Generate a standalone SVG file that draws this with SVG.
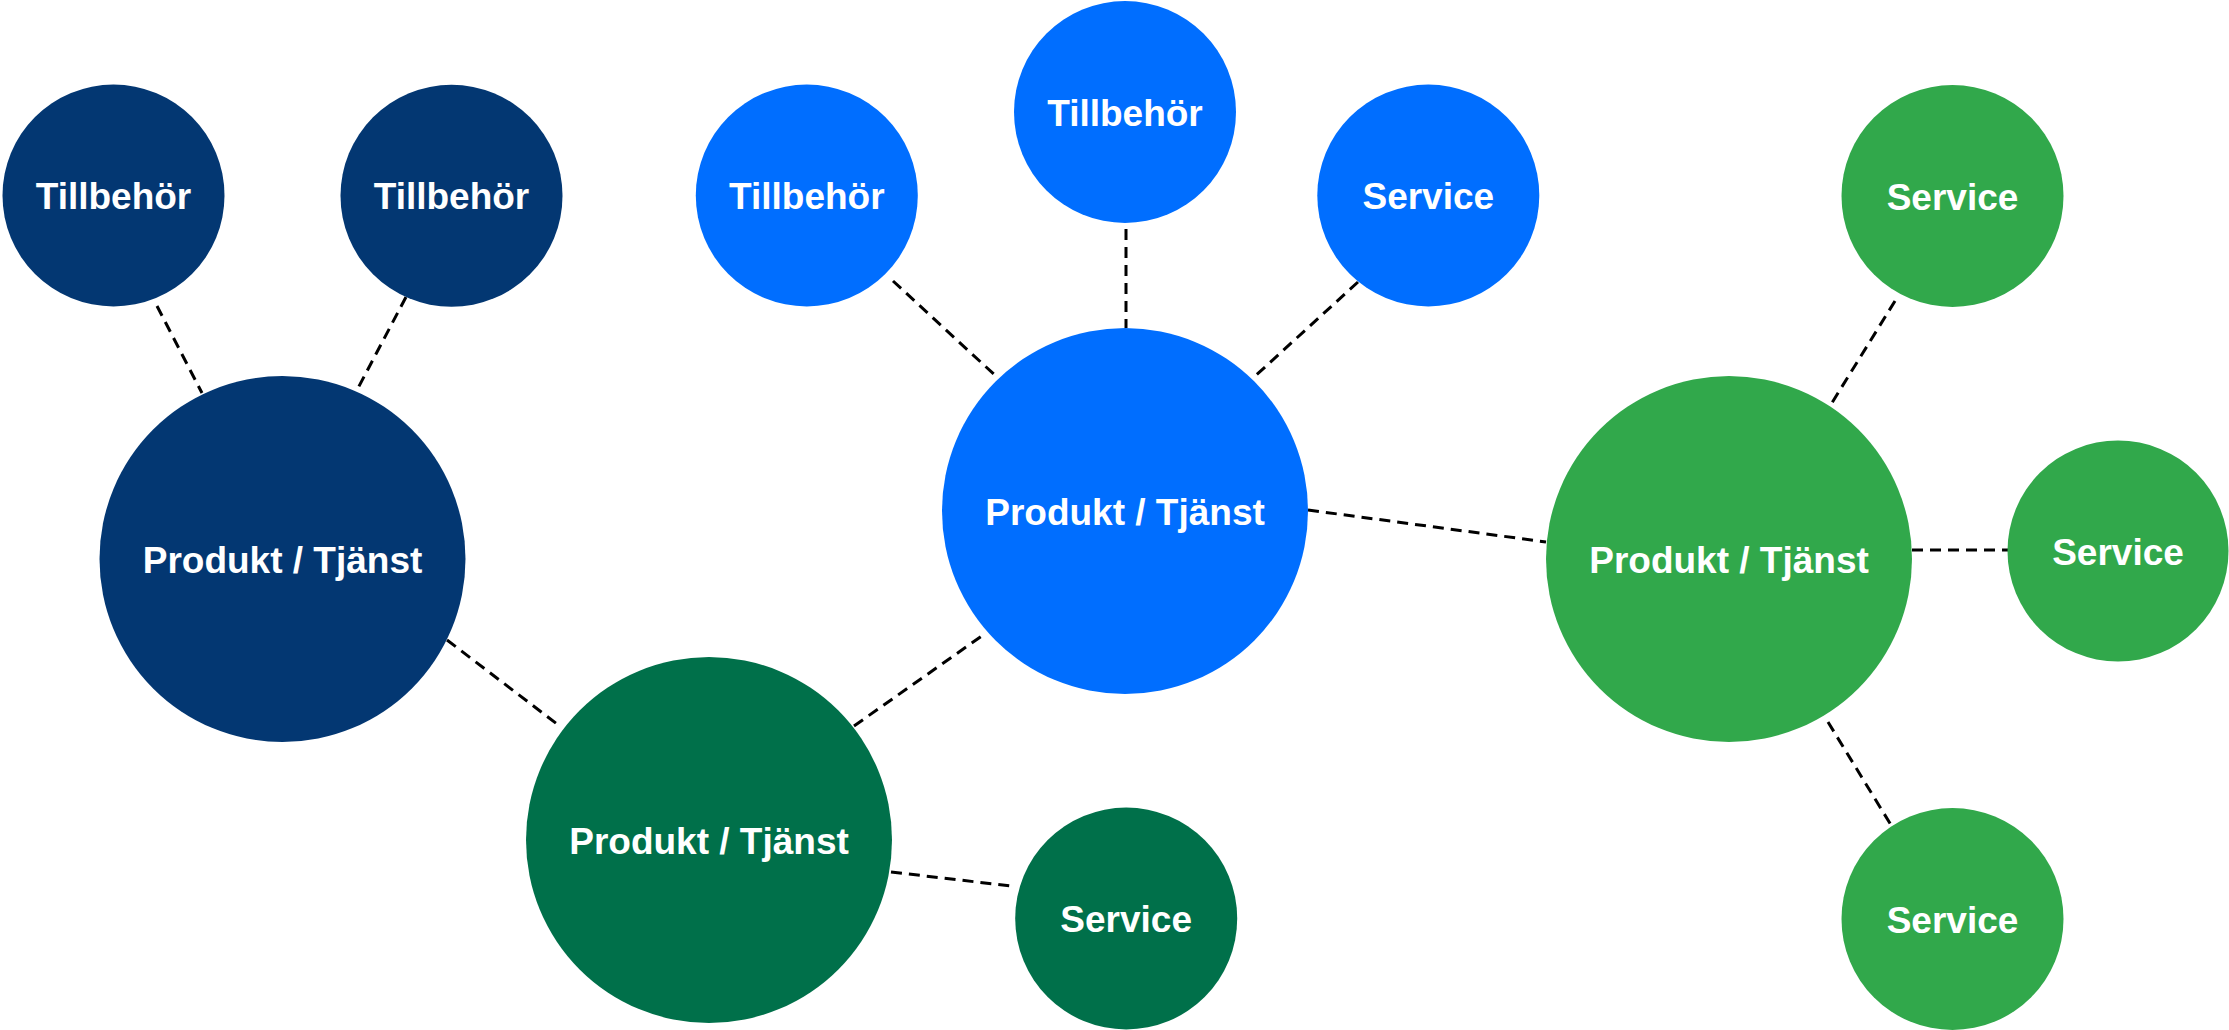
<svg xmlns="http://www.w3.org/2000/svg" width="2229" height="1030" viewBox="0 0 2229 1030">
<style>
.navy{fill:#033772}
.dgreen{fill:#00704A}
.blue{fill:#006EFF}
.lgreen{fill:#31A84B}
text{font-family:"Liberation Sans",Arial,sans-serif;font-weight:bold;font-size:37px;fill:#ffffff;text-anchor:middle}
#connectors line{stroke:#000;stroke-width:3;stroke-dasharray:11 7;fill:none}
</style>
<rect width="2229" height="1030" fill="#ffffff"/>
<g id="connectors">
<line x1="157" y1="306" x2="202" y2="393"/>
<line x1="406" y1="297" x2="357" y2="390"/>
<line x1="447" y1="640" x2="561" y2="727"/>
<line x1="854" y1="726" x2="986" y2="633"/>
<line x1="891" y1="872" x2="1011" y2="886"/>
<line x1="893" y1="281" x2="998" y2="378"/>
<line x1="1126" y1="229" x2="1126" y2="328"/>
<line x1="1358" y1="282" x2="1253" y2="378"/>
<line x1="1308" y1="510" x2="1546" y2="542"/>
<line x1="1895" y1="301" x2="1830" y2="406"/>
<line x1="1912" y1="550" x2="2008" y2="550"/>
<line x1="1828" y1="722" x2="1891" y2="825"/>
</g>
<g id="navy-tillbehor-1"><circle class="navy" cx="113.5" cy="195.5" r="111"/><text x="113.5" y="209">Tillbehör</text></g>
<g id="navy-tillbehor-2"><circle class="navy" cx="451.5" cy="195.8" r="111"/><text x="451.5" y="209.3">Tillbehör</text></g>
<g id="navy-produkt"><circle class="navy" cx="282.5" cy="559" r="183"/><text x="282.5" y="572.5">Produkt / Tjänst</text></g>
<g id="dgreen-produkt"><circle class="dgreen" cx="709" cy="840" r="183"/><text x="709" y="853.5">Produkt / Tjänst</text></g>
<g id="dgreen-service"><circle class="dgreen" cx="1126.2" cy="918.5" r="111"/><text x="1126.2" y="932">Service</text></g>
<g id="blue-tillbehor-1"><circle class="blue" cx="806.8" cy="195.5" r="111"/><text x="806.8" y="209">Tillbehör</text></g>
<g id="blue-tillbehor-2"><circle class="blue" cx="1125" cy="112" r="111"/><text x="1125" y="125.5">Tillbehör</text></g>
<g id="blue-service"><circle class="blue" cx="1428.3" cy="195.5" r="111"/><text x="1428.3" y="209">Service</text></g>
<g id="blue-produkt"><circle class="blue" cx="1125" cy="511" r="183"/><text x="1125" y="524.5">Produkt / Tjänst</text></g>
<g id="lgreen-produkt"><circle class="lgreen" cx="1729" cy="559" r="183"/><text x="1729" y="572.5">Produkt / Tjänst</text></g>
<g id="lgreen-service-1"><circle class="lgreen" cx="1952.5" cy="196" r="111"/><text x="1952.5" y="209.5">Service</text></g>
<g id="lgreen-service-2"><circle class="lgreen" cx="2118" cy="551" r="110.5"/><text x="2118" y="564.5">Service</text></g>
<g id="lgreen-service-3"><circle class="lgreen" cx="1952.5" cy="919" r="111"/><text x="1952.5" y="932.5">Service</text></g>
</svg>
